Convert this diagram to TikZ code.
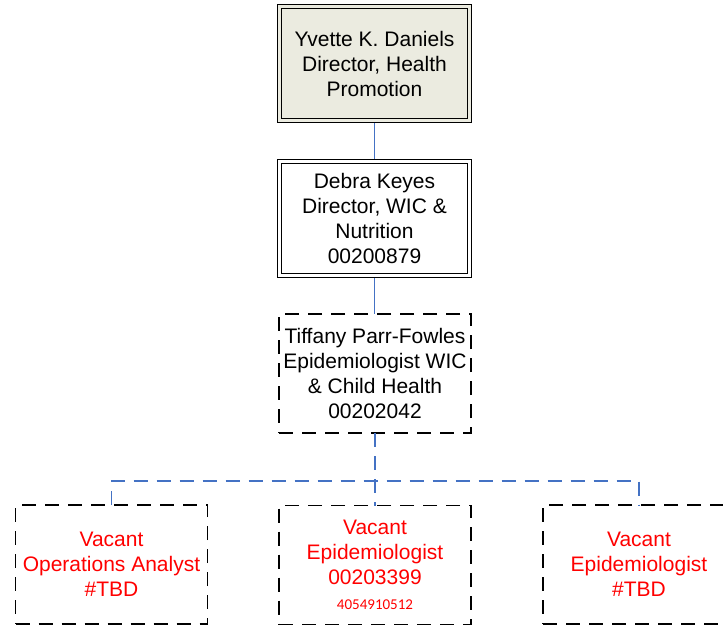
\documentclass[tikz,border=0pt]{standalone}
\usepackage{fontspec}
\setmainfont{Liberation Sans}
\newfontfamily\numfont{Carlito}
\definecolor{beige}{RGB}{235,235,224}
\definecolor{linkblue}{RGB}{68,114,196}
\begin{document}
\begin{tikzpicture}[x=1pt,y=-1pt,
  every node/.style={font=\fontsize{21}{25}\selectfont, align=center, inner sep=0pt, outer sep=0pt},
  dbox/.style={draw=black, line width=1.4pt, double=white, double distance=2.6pt,
    minimum width=189.5pt, minimum height=113.5pt, outer sep=2.75pt},
  dashbox/.style={draw=black, line width=1.8pt, dash pattern=on 14pt off 9pt,
    minimum width=192pt, minimum height=119pt},
  vacant/.style={dashbox, text=red},
  link/.style={draw=linkblue, line width=1.5pt},
  dlink/.style={link, line width=1.8pt, dash pattern=on 14pt off 9pt}]
\clip (0,0) rectangle (723,627);
\useasboundingbox (0,0) rectangle (723,627);

\node[dbox, fill=beige, double=beige] (ykd) at (374.5,63.5)
  {Yvette K. Daniels\\Director, Health\\Promotion};
\node[dbox, fill=white] (dk) at (374.5,218.5)
  {Debra Keyes\\Director, WIC \&\\Nutrition\\00200879};
\node[dashbox] (tpf) at (375,373.5)
  {Tiffany Parr-Fowles\\Epidemiologist WIC\\\& Child Health\\00202042};

\node[vacant] (oa) at (111.5,564.5)
  {Vacant\\Operations Analyst\\\#TBD};
\node[vacant] (ep1) at (375,565)
  {Vacant\\Epidemiologist\\00203399\\{\numfont\fontsize{15}{25}\selectfont 4054910512}};
\node[vacant] (ep2) at (639,564.5)
  {Vacant\\Epidemiologist\\\#TBD};

\coordinate (bus) at (375,481);

\draw[link] (ykd.south) -- (dk.north);
\draw[link] (dk.south) -- (dk.south |- tpf.north);
\draw[dlink] (tpf.south) -- (ep1.north);
\draw[dlink] (oa.north) -- (oa.north |- bus) -- (ep2.north |- bus) -- (ep2.north);
\end{tikzpicture}
\end{document}
